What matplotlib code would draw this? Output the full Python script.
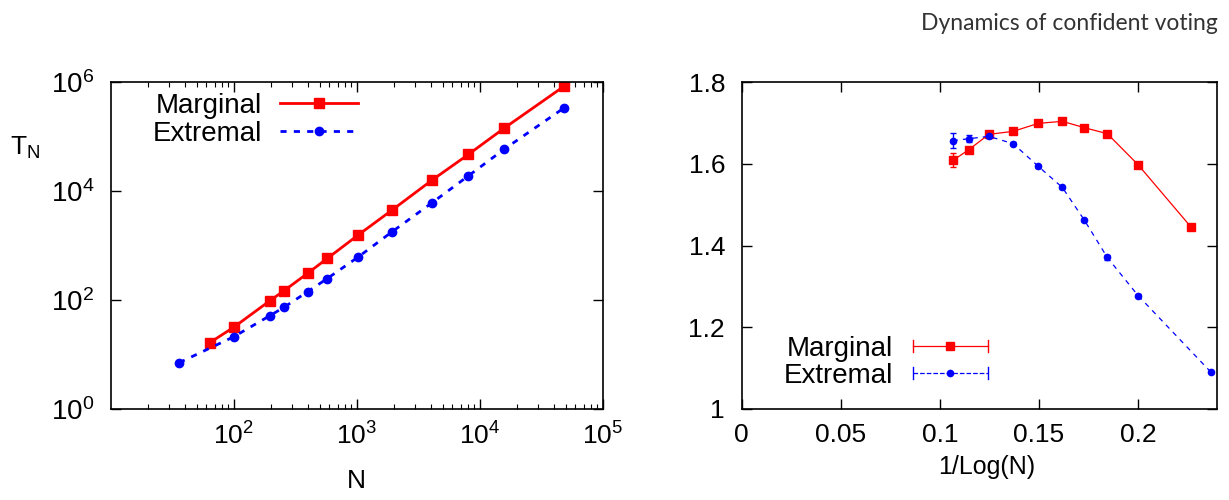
"""
Dynamics of confident voting: relaxation time T_N versus N (log-log),
and the effective exponent versus 1/Log(N).
"""

import numpy as np
import matplotlib
matplotlib.use('Agg')
import matplotlib.pyplot as plt
from matplotlib.lines import Line2D
from matplotlib.legend_handler import HandlerBase
from matplotlib.ticker import LogLocator, NullFormatter, NullLocator, FormatStrFormatter, MultipleLocator

plt.rcParams['font.family'] = ['Liberation Sans', 'DejaVu Sans']
plt.rcParams['mathtext.fontset'] = 'custom'
plt.rcParams['mathtext.rm'] = 'Liberation Sans'
plt.rcParams['mathtext.it'] = 'Liberation Sans:italic'

# Left panel data: T_N vs N
N_marg = [64, 100, 196, 256, 400, 576, 1024, 1936, 4096, 8100, 15876, 48400]
T_marg = [16.4, 31.4, 96, 147, 310, 577, 1550, 4470, 15900, 47300, 144500, 843000]
N_extr = [36, 100, 196, 256, 400, 576, 1024, 1936, 4096, 8100, 15876, 48400]
T_extr = [7.0, 21, 51, 73, 142, 247, 610, 1786, 6100, 19100, 59300, 337000]

# Right panel data: exponent vs 1/Log(N)
x_marg = [0.1066, 0.1146, 0.1247, 0.1370, 0.1497, 0.1618, 0.1729, 0.1845, 0.2000, 0.2269]
z_marg = [1.6086, 1.6348, 1.6724, 1.6798, 1.6994, 1.7043, 1.6888, 1.6740, 1.5980, 1.4442]
e_marg = [0.017, 0.004, 0.003, 0.003, 0.003, 0.003, 0.003, 0.003, 0.003, 0.003]
x_extr = [0.1066, 0.1146, 0.1247, 0.1370, 0.1497, 0.1618, 0.1729, 0.1845, 0.2000, 0.2367]
z_extr = [1.6569, 1.6618, 1.6675, 1.6495, 1.5939, 1.5423, 1.4622, 1.3706, 1.2773, 1.0900]
e_extr = [0.018, 0.008, 0.004, 0.003, 0.003, 0.003, 0.003, 0.006, 0.003, 0.002]

RED = '#ff0000'
BLUE = '#0000ff'


class ErrLineHandler(HandlerBase):
    # gnuplot-like key sample: horizontal line with end caps and a marker in the middle
    def create_artists(self, legend, orig, xd, yd, width, height, fontsize, trans):
        y = yd + height / 2
        line = Line2D([xd, xd + width], [y, y], color=orig.get_color(),
                      linestyle=orig.get_linestyle(), linewidth=orig.get_linewidth())
        cap = 0.3 * height
        c1 = Line2D([xd, xd], [y - cap, y + cap], color=orig.get_color(), linewidth=1)
        c2 = Line2D([xd + width, xd + width], [y - cap, y + cap], color=orig.get_color(), linewidth=1)
        mk = Line2D([xd + width / 2], [y], marker=orig.get_marker(), markersize=orig.get_markersize(),
                    color=orig.get_color(), linestyle='none')
        arts = [line, c1, c2, mk]
        for a in arts:
            a.set_transform(trans)
        return arts


fig = plt.figure(figsize=(12.29, 5.0), dpi=100)

# ---- left panel ----
ax1 = fig.add_axes([0.0901, 0.1826, 0.4003, 0.6528])
ax1.loglog(N_marg, T_marg, color=RED, linestyle='-', linewidth=2.0,
           marker='s', markersize=7, label='Marginal')
ax1.loglog(N_extr, T_extr, color=BLUE, linestyle=(0, (2.2, 2.6)), linewidth=2.0,
           marker='o', markersize=6, label='Extremal')
ax1.set_xlim(10, 1e5)
ax1.set_ylim(1, 1e6)
ax1.set_xticks([1e2, 1e3, 1e4, 1e5])
ax1.set_xticklabels([r'$10^{2}$', r'$10^{3}$', r'$10^{4}$', r'$10^{5}$'])
ax1.xaxis.set_minor_locator(LogLocator(base=10, subs=np.arange(2, 10)))
ax1.xaxis.set_minor_formatter(NullFormatter())
ax1.set_yticks([1, 1e2, 1e4, 1e6])
ax1.set_yticklabels([r'$10^{0}$', r'$10^{2}$', r'$10^{4}$', r'$10^{6}$'])
ax1.yaxis.set_minor_locator(NullLocator())
ax1.set_xlabel('N', fontsize=19, va='center')
ax1.xaxis.set_label_coords(0.5, -0.22)
ax1.set_ylabel(r'T$_{\mathregular{N}}$', fontsize=19, rotation=0, va='center', ha='center')
ax1.yaxis.set_label_coords(-0.175, 0.80)
ax1.legend(loc='upper left', bbox_to_anchor=(0.035, 1.045), markerfirst=False,
           frameon=False, fontsize=20, handlelength=2.8, labelspacing=0.08,
           handletextpad=0.65)

# ---- right panel ----
ax2 = fig.add_axes([0.6035, 0.1826, 0.3870, 0.6528])
h_m = ax2.errorbar(x_marg, z_marg, yerr=e_marg, color=RED, linestyle='-', linewidth=0.9,
                   marker='s', markersize=5.5, capsize=2.5, elinewidth=1.0, label='Marginal')
h_e = ax2.errorbar(x_extr, z_extr, yerr=e_extr, color=BLUE, linestyle=(0, (4, 4)), linewidth=0.9,
                   marker='o', markersize=4.5, capsize=2.5, elinewidth=1.0, label='Extremal')
ax2.set_xlim(0, 0.24)
ax2.set_ylim(1, 1.8)
ax2.xaxis.set_major_locator(MultipleLocator(0.05))
ax2.yaxis.set_major_locator(MultipleLocator(0.2))
ax2.xaxis.set_major_formatter(FormatStrFormatter('%g'))
ax2.yaxis.set_major_formatter(FormatStrFormatter('%g'))
ax2.set_xlabel('1/Log(N)', fontsize=18, va='center')
ax2.xaxis.set_label_coords(0.515, -0.18)
ax2.legend([h_m.lines[0], h_e.lines[0]], ['Marginal', 'Extremal'],
           handler_map={Line2D: ErrLineHandler()},
           loc='lower left', bbox_to_anchor=(0.035, -0.016), markerfirst=False,
           frameon=False, fontsize=20, handlelength=2.7, labelspacing=0.05,
           handletextpad=0.72)

for ax in (ax1, ax2):
    for sp in ax.spines.values():
        sp.set_linewidth(1.2)
    ax.tick_params(which='major', direction='in', top=True, right=True,
                   length=7, width=1.0)
    ax.tick_params(which='minor', direction='in', top=True, right=True,
                   length=3.5, width=0.8)
ax1.tick_params(axis='y', labelsize=20, pad=12)
ax1.tick_params(axis='x', labelsize=19, pad=10)
ax2.tick_params(axis='y', labelsize=19, pad=12)
ax2.tick_params(axis='x', labelsize=19, pad=10)

fig.text(0.991, 0.94, 'Dynamics of confident voting', ha='right', va='baseline',
         fontsize=16.5, color='#333333', family=['Lato', 'DejaVu Sans'])

fig.savefig('out.png', dpi=100)
